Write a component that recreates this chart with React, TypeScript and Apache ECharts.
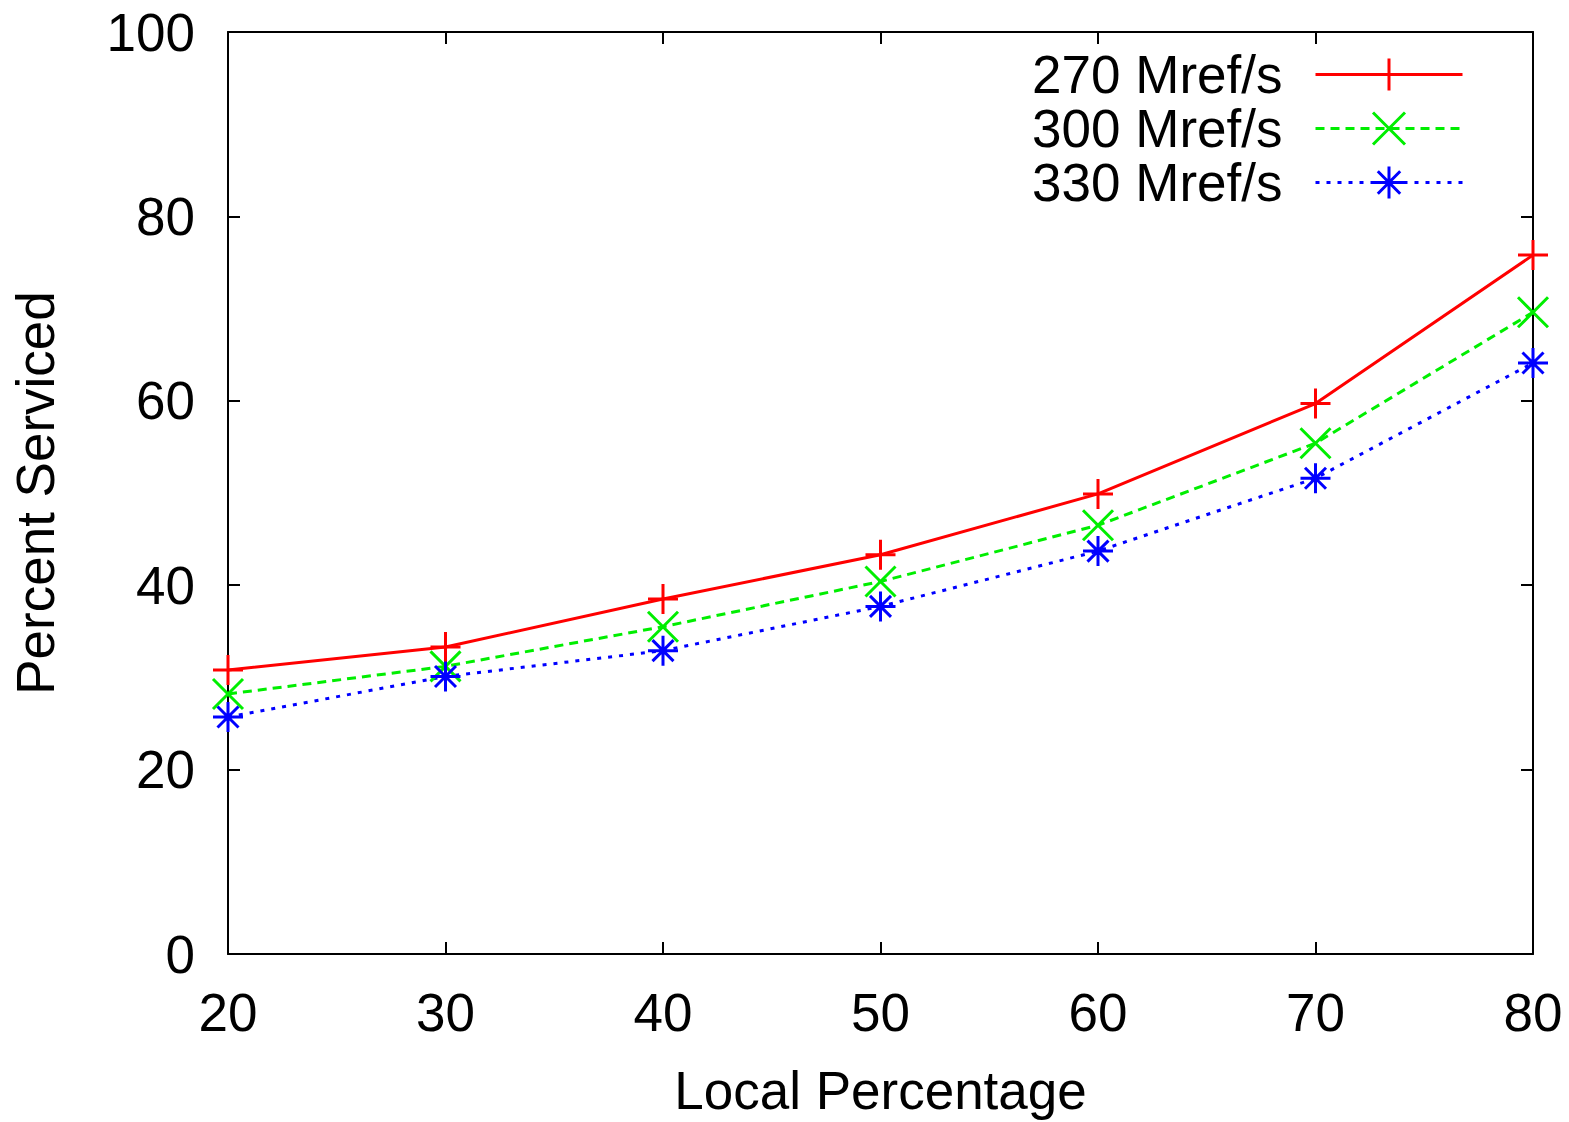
import React, { useEffect, useRef } from "react";
import * as echarts from "echarts";

const xValues = [20, 30, 40, 50, 60, 70, 80];
const s270 = [30.8, 33.3, 38.5, 43.3, 49.9, 59.7, 75.8];
const s300 = [28.2, 31.2, 35.5, 40.4, 46.5, 55.4, 69.6];
const s330 = [25.7, 30.1, 32.9, 37.7, 43.7, 51.6, 64.1];
const seriesNames = ["270 Mref/s", "300 Mref/s", "330 Mref/s"];
const seriesColors = ["#ff0000", "#00ee00", "#0000ff"];
const seriesDash: any[] = ["solid", [9, 6], [4, 7]];

const FONT = "'Liberation Sans', Arial, Helvetica, sans-serif";
const FS = 53;
const LW = 3;

const plusSym = "path://M0,-10L0,10M-10,0L10,0";
const crossSym = "path://M-10,-10L10,10M-10,10L10,-10";
const starSym = "path://M0,-10L0,10M-10,0L10,0M-7,-7L7,7M-7,7L7,-7";
const symbols = [plusSym, crossSym, starSym];

export default function App() {
  const ref = useRef<HTMLDivElement>(null);
  useEffect(() => {
    if (!ref.current) return;
    const chart = echarts.init(ref.current, undefined, { renderer: "svg" });
    const datasets = [s270, s300, s330];
    const series = datasets.map((data, k) => ({
      name: seriesNames[k],
      type: "line",
      data: xValues.map((x, i) => [x, data[i]]),
      symbol: symbols[k],
      symbolSize: 30,
      clip: false,
      lineStyle: { color: seriesColors[k], width: LW, type: seriesDash[k] },
      itemStyle: { color: seriesColors[k], borderColor: seriesColors[k], borderWidth: LW },
    }));
    const axisCommon = {
      axisLine: { show: true, onZero: false, lineStyle: { color: "#000", width: 2 } },
      axisTick: { show: true, inside: true, length: 12, lineStyle: { color: "#000", width: 2 } },
      splitLine: { show: false },
    };
    chart.setOption({
      animation: false,
      backgroundColor: "#fff",
      textStyle: { fontFamily: FONT },
      grid: { left: 228, top: 32, right: 36, bottom: 162 },
      legend: {
        orient: "vertical",
        right: 100,
        top: 43,
        align: "right",
        itemWidth: 147,
        itemHeight: 40,
        itemGap: 1,
        textStyle: { fontSize: FS, fontFamily: FONT, color: "#000", padding: [0, 28, 0, 0] },
        data: seriesNames.map((n, k) => ({
          name: n,
          lineStyle: { color: seriesColors[k], width: LW, type: seriesDash[k] },
          itemStyle: { color: seriesColors[k], borderColor: seriesColors[k], borderWidth: LW },
        })),
      },
      xAxis: [
        {
          type: "value",
          min: 20,
          max: 80,
          interval: 10,
          position: "bottom",
          name: "Local Percentage",
          nameLocation: "middle",
          nameGap: 110,
          nameTextStyle: { fontSize: FS, color: "#000", fontFamily: FONT },
          axisLabel: { fontSize: FS, color: "#000", margin: 32, fontFamily: FONT },
          ...axisCommon,
        },
        {
          type: "value",
          min: 20,
          max: 80,
          interval: 10,
          position: "top",
          axisLabel: { show: false },
          ...axisCommon,
        },
      ],
      yAxis: [
        {
          type: "value",
          min: 0,
          max: 100,
          interval: 20,
          position: "left",
          name: "Percent Serviced",
          nameLocation: "middle",
          nameGap: 166,
          nameTextStyle: { fontSize: FS, color: "#000", fontFamily: FONT },
          axisLabel: { fontSize: FS, color: "#000", margin: 33, fontFamily: FONT },
          ...axisCommon,
        },
        {
          type: "value",
          min: 0,
          max: 100,
          interval: 20,
          position: "right",
          axisLabel: { show: false },
          ...axisCommon,
        },
      ],
      series,
    });
    return () => chart.dispose();
  }, []);
  return (
    <div
      ref={ref}
      style={{ position: "fixed", left: 0, top: 0, width: 1569, height: 1122, background: "#fff" }}
    />
  );
}
